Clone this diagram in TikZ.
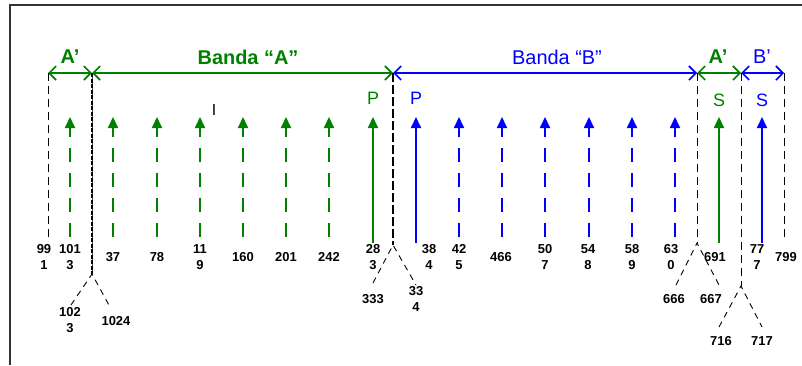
\documentclass[tikz,border=0pt]{standalone}
\usepackage{fontspec}
\setmainfont{Liberation Sans}
\usetikzlibrary{arrows.meta}
\definecolor{bandA}{RGB}{0,128,0}
\definecolor{bandB}{RGB}{0,0,255}

\begin{document}
\begin{tikzpicture}[x=1bp,y=-1bp,
	band/.style={line width=1.6bp,{Straight Barb[length=7bp,width=14bp]}-{Straight Barb[length=7bp,width=14bp]}},
	chan/.style={line width=1.8bp,-{Triangle[length=11bp,width=10bp]}},
	gap/.style={dash pattern=on 14bp off 11bp},
	edge/.style={black,line width=0.9bp,dash pattern=on 8bp off 5bp},
	num/.style={font=\bfseries\fontsize{13}{16}\selectfont,align=center,inner sep=0pt},
	lbl/.style={font=\fontsize{20}{24}\selectfont,inner sep=0pt},
	tag/.style={font=\fontsize{18}{20}\selectfont,inner sep=0pt}]
	\useasboundingbox (0,0) rectangle (802,365);
	% frame
	\draw[line width=2bp,black!80] (10,365) -- (10,5) -- (802,5);

	% band limits and the tops of the separators
	\foreach \n/\x in {e0/48,e1/92,e2/393,e3/697,e4/741,e5/784}
		\coordinate (\n) at (\x,73);
	\draw[band,bandA] (e0) -- (e1);
	\draw[band,bandA] (e1) -- (e2);
	\draw[band,bandB] (e2) -- (e3);
	\draw[band,bandA] (e3) -- (e4);
	\draw[band,bandB] (e4) -- (e5);
	\node[lbl,bandA,font=\bfseries\fontsize{20}{24}\selectfont] (la1) at (70,57) {A’};
	\node[lbl,bandA,font=\bfseries\fontsize{20}{24}\selectfont] (la) at (248,57) {Banda “A”};
	\node[lbl,bandB] (lb) at (557,57) {Banda “B”};
	\node[lbl,bandA,font=\bfseries\fontsize{20}{24}\selectfont] (la2) at (718,57) {A’};
	\node[lbl,bandB] (lb2) at (762,57) {B’};

	% separators down to the forks
	\coordinate (f0) at (48,242);
	\coordinate (k1) at (92,274);
	\coordinate (k2) at (393,245);
	\coordinate (k3) at (697,243);
	\coordinate (k4) at (741,286);
	\coordinate (f5) at (784,242);
	\draw[edge] (e0) -- (f0);
	\draw[black!70,line width=1bp] (e1) -- (k1);
	\draw[black,line width=1.5bp,dash pattern=on 4bp off 1.5bp] (e1) -- (k1);
	\draw[black,line width=2.6bp,dash pattern=on 9bp off 3bp] (e2) -- (k2);
	\draw[edge] (e3) -- (k3);
	\draw[edge] (e4) -- (k4);
	\draw[edge] (e5) -- (f5);

	% forks
	\coordinate (l1) at (71,305); \coordinate (r1) at (110,307);
	\coordinate (l2) at (373,283); \coordinate (r2) at (416,285);
	\coordinate (l3) at (676,285); \coordinate (r3) at (719,285);
	\coordinate (l4) at (719,327); \coordinate (r4) at (762,327);
	\foreach \i in {1,2,3,4}
		\draw[edge,dash pattern=on 6bp off 5bp] (l\i) -- (k\i) -- (r\i);
	\node[num] (m1) at (70,320) {102\\3};
	\node[num] (m2) at (116,321) {1024};
	\node[num] (m3) at (373,299) {333};
	\node[num] (m4) at (416,299) {33\\4};
	\node[num] (m5) at (674,299) {666};
	\node[num] (m6) at (711,299) {667};
	\node[num] (m7) at (721,341) {716};
	\node[num] (m8) at (762,341) {717};

	% channel numbers
	\foreach \x/\t in {44/{99\\1},70/{101\\3},113/37,157/78,200/{11\\9},243/160,286/201,329/242,
		373/{28\\3},429/{38\\4},459/{42\\5},501/466,545/{50\\7},588/{54\\8},632/{58\\9},671/{63\\0},
		715/691,757/{77\\7},786/799}
		\node[num] (n\x) at (\x,257) {\t};

	% channels
	\foreach \x in {70,113,157,200,243,286,329}{
		\coordinate (s\x) at (\x,237); \coordinate (t\x) at (\x,117);
		\draw[chan,bandA,gap] (s\x) -- (t\x);
	}
	\foreach \x in {459,502,545,589,632,675}{
		\coordinate (s\x) at (\x,237); \coordinate (t\x) at (\x,117);
		\draw[chan,bandB,gap] (s\x) -- (t\x);
	}
	\foreach \x/\c in {373/bandA,416/bandB,719/bandA,762/bandB}{
		\coordinate (s\x) at (\x,243); \coordinate (t\x) at (\x,117);
		\draw[chan,\c] (s\x) -- (t\x);
	}
	\node[tag,bandA] (p1) at (373,98) {P};
	\node[tag,bandB] (p2) at (416,98) {P};
	\node[tag,bandA] (q1) at (719,100) {S};
	\node[tag,bandB] (q2) at (762,100) {S};
	\node[font=\fontsize{16}{18}\selectfont,inner sep=0pt] (cur) at (214,110) {I};
\end{tikzpicture}
\end{document}
